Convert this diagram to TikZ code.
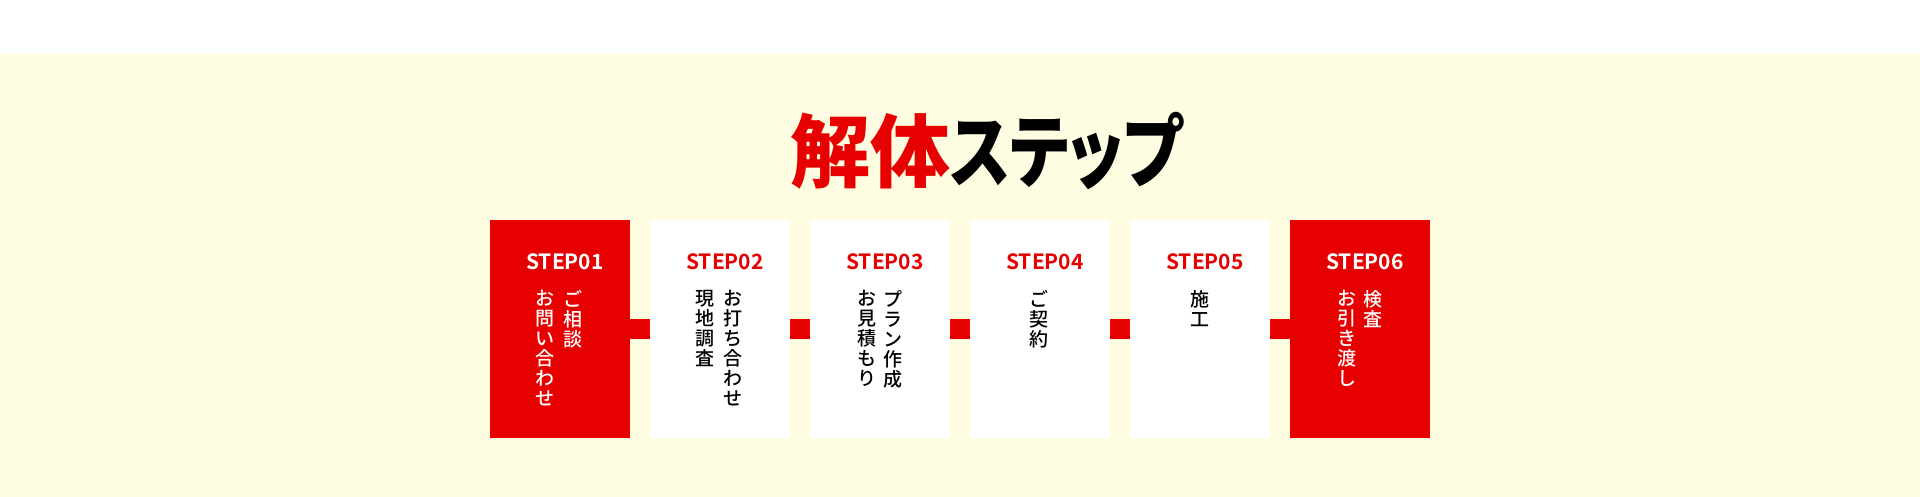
\documentclass[tikz,border=0pt]{standalone}
\usepackage{graphicx}
\usepackage{fontspec}
\newfontfamily\cjk{Noto Sans CJK JP Medium}
\newfontfamily\cjktitle{Noto Sans CJK JP Black}[RawFeature=+palt]
\newfontfamily\cjkbold{Noto Sans CJK JP Bold}
\definecolor{stepred}{HTML}{E60000}
\definecolor{cream}{HTML}{FEFDE2}

\begin{document}
\begin{tikzpicture}[x=1pt,y=-1pt,
    box/.style={minimum width=140pt,minimum height=218pt,inner sep=0pt,anchor=north west},
    redbox/.style={box,fill=stepred},
    whitebox/.style={box,fill=white},
    steplabel/.style={inner sep=0pt,font=\cjkbold\fontsize{21}{21}\selectfont},
    vcol/.style={anchor=north,inner sep=0pt,align=center,font=\cjk\fontsize{19}{20}\selectfont},
    link/.style={stepred,line width=20pt}]

    \useasboundingbox (0,0) rectangle (1920,497);
    \fill[white] (0,0) rectangle (1920,53);
    \fill[cream] (0,53) rectangle (1920,497);

    \node[anchor=west,inner sep=0pt] (title) at (790,151) {\cjktitle\fontsize{80}{80}\selectfont\textcolor{stepred}{解体}\scalebox{0.8}[1]{ステップ}};

    \node[redbox] (s1) at (490,220) {};
    \node[whitebox] (s2) at (650,220) {};
    \node[whitebox] (s3) at (810,220) {};
    \node[whitebox] (s4) at (970,220) {};
    \node[whitebox] (s5) at (1130,220) {};
    \node[redbox] (s6) at (1290,220) {};

    \draw[link] (s1.east) -- (s2.west);
    \draw[link] (s2.east) -- (s3.west);
    \draw[link] (s3.east) -- (s4.west);
    \draw[link] (s4.east) -- (s5.west);
    \draw[link] (s5.east) -- (s6.west);

    \node[steplabel,white] (l1) at (565,262) {STEP01};
    \node[steplabel,stepred] (l2) at (725,262) {STEP02};
    \node[steplabel,stepred] (l3) at (885,262) {STEP03};
    \node[steplabel,stepred] (l4) at (1045,262) {STEP04};
    \node[steplabel,stepred] (l5) at (1205,262) {STEP05};
    \node[steplabel,white] (l6) at (1365,262) {STEP06};

    % vertical text, right column first
    \node[vcol,white] (c1a) at (573,290) {ご\\相\\談};
    \node[vcol,white] (c1b) at (545,290) {お\\問\\い\\合\\わ\\せ};
    \node[vcol] (c2a) at (733,290) {お\\打\\ち\\合\\わ\\せ};
    \node[vcol] (c2b) at (705,290) {現\\地\\調\\査};
    \node[vcol] (c3a) at (893,290) {プ\\ラ\\ン\\作\\成};
    \node[vcol] (c3b) at (867,290) {お\\見\\積\\も\\り};
    \node[vcol] (c4a) at (1039,290) {ご\\契\\約};
    \node[vcol] (c5a) at (1200,290) {施\\工};
    \node[vcol,white] (c6a) at (1373,290) {検\\査};
    \node[vcol,white] (c6b) at (1347,290) {お\\引\\き\\渡\\し};

\end{tikzpicture}
\end{document}
